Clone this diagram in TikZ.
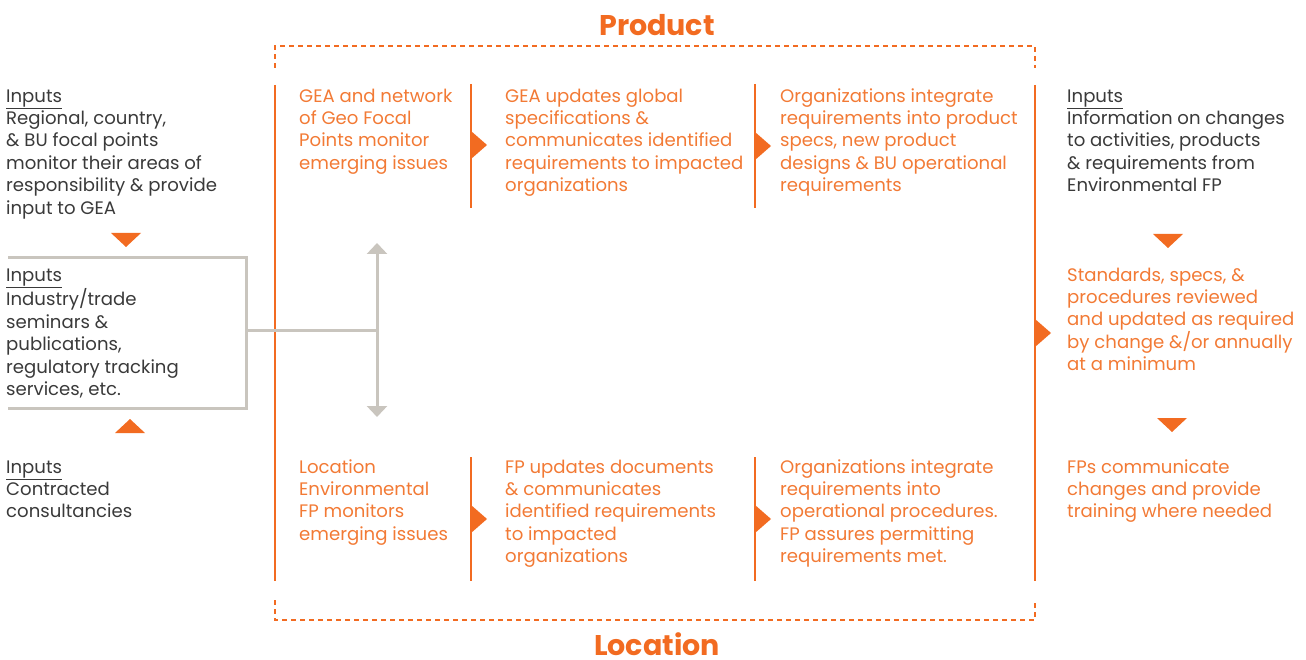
\documentclass[tikz,border=0pt]{standalone}
\usepackage{fontspec}
\setmainfont{Poppins}
\usepackage{xcolor}
\usetikzlibrary{arrows.meta,positioning}

\definecolor{brand}{HTML}{F26B21}
\definecolor{brandtext}{HTML}{F27A35}
\definecolor{ink}{HTML}{3A3A3A}
\definecolor{railgray}{HTML}{C9C5BE}

\begin{document}
\begin{tikzpicture}[x=1pt,y=-1pt,
  txt/.style={anchor=north west,inner sep=0pt,align=left,
    font=\fontsize{18.1}{22.4}\selectfont},
  otxt/.style={txt,text=brandtext},
  ktxt/.style={txt,text=ink},
  heading/.style={anchor=base,inner sep=0pt,text depth=0pt,
    font=\fontsize{28.5}{34}\selectfont\bfseries,text=brand},
  bar/.style={brand,line width=2.5pt},
  frame/.style={brand,line width=2pt,dash pattern=on 5pt off 4pt},
  feed/.style={railgray,line width=3pt},
  tipfill/.style={fill=brand,draw=none}]
\def \rowA {86.3}
\def \rowB {265.3}
\def \rowC {457.3}
\useasboundingbox (0,0) rectangle (1306,660);

% titles and dashed frame
\node[heading] (product) at (657,36) {Product};
\node[heading] (location) at (657,655) {Location};
\draw[frame] (275,68) -- (275,46) -- (1035,46) -- (1035,68);
\draw[frame] (275,600) -- (275,620) -- (1035,620) -- (1035,600);

% vertical bars
\draw[bar] (275,85) -- (275,581);
\draw[bar] (1035,85) -- (1035,581);
\foreach \x in {471,755}
{
\draw[bar] (\x,84) -- (\x,208);
\draw[bar] (\x,457) -- (\x,581);
}

% arrow heads on bars
\foreach \x/\y in {471/145,755/146,1035/333,471/519,755/519}
{
\fill[tipfill] (\x,\y-14) -- (\x+16,\y) -- (\x,\y+14) -- cycle;
}

% down and up markers
\foreach \x/\y in {126/233,1168/234,1172/418}
{
\fill[tipfill] (\x-15,\y) -- (\x+15,\y) -- (\x,\y+14) -- cycle;
}
\fill[tipfill] (115,433) -- (145,433) -- (130,419) -- cycle;

% left inputs
\node[ktxt] (inA) at (6,\rowA) {\strut\underline{Inputs}\\Regional, country,\\\& BU focal points\\monitor their areas of\\responsibility \& provide\\input to GEA};
\node[ktxt] (inB) at (6,\rowB) {\strut\underline{Inputs}\\Industry/trade\\seminars \&\\publications,\\regulatory tracking\\services, etc.};
\node[ktxt] (inC) at (6,\rowC) {\strut\underline{Inputs}\\Contracted\\consultancies};

% product row
\node[otxt] (prodA) at (299,\rowA) {\strut GEA and network\\of Geo Focal\\Points monitor\\emerging issues};
\node[otxt] (prodB) at (505,\rowA) {\strut GEA updates global\\specifications \&\\communicates identified\\requirements to impacted\\organizations};
\node[otxt] (prodC) at (780,\rowA) {\strut Organizations integrate\\requirements into product\\specs, new product\\designs \& BU operational\\requirements};

% location row
\node[otxt] (locA) at (299,\rowC) {\strut Location\\Environmental\\FP monitors\\emerging issues};
\node[otxt] (locB) at (505,\rowC) {\strut FP updates documents\\\& communicates\\identified requirements\\to impacted\\organizations};
\node[otxt] (locC) at (780,\rowC) {\strut Organizations integrate\\requirements into\\operational procedures.\\FP assures permitting\\requirements met.};

% right column
\node[ktxt] (outA) at (1067,\rowA) {\strut\underline{Inputs}\\Information on changes\\to activities, products\\\& requirements from\\Environmental FP};
\node[otxt] (outB) at (1067,\rowB) {\strut Standards, specs, \&\\procedures reviewed\\and updated as required\\by change \&/or annually\\at a minimum};
\node[otxt] (outC) at (1067,\rowC) {\strut FPs communicate\\changes and provide\\training where needed};

% gray feed box and double arrow
\coordinate (boxtop) at (8,258);
\coordinate (boxbot) at (8,408);
\coordinate (boxmid) at (246,330);
\coordinate (split) at (377,330);
\coordinate (splitup) at (377,243);
\coordinate (splitdown) at (377,417);
\draw[feed] (boxtop) -- (246,258) -- (246,408) -- (boxbot);
\draw[feed] (boxmid) -- (split);
\draw[feed,{Triangle[width=20pt,length=11pt]}-{Triangle[width=20pt,length=11pt]}] (splitup) -- (splitdown);

\end{tikzpicture}
\end{document}
